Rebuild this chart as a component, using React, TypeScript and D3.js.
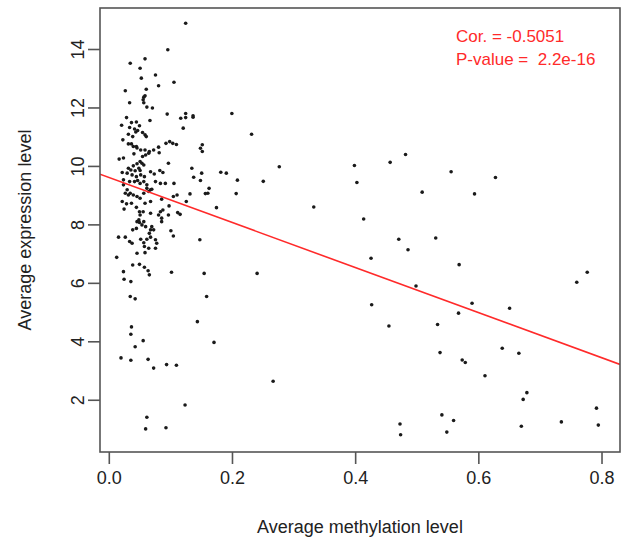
import React from 'react';
import * as d3 from 'd3';

// Average methylation level (x) and average expression level (y), one entry per gene
const methylation = [
  0.124, 0.095, 0.034, 0.058, 0.050, 0.075, 0.052, 0.105, 0.080, 0.026, 0.060, 0.056, 0.058, 0.055, 0.056, 0.033,
  0.061, 0.070, 0.028, 0.094, 0.066, 0.124, 0.124, 0.116, 0.136, 0.136, 0.036, 0.044, 0.020, 0.033, 0.049, 0.041,
  0.043, 0.046, 0.054, 0.058, 0.060, 0.031, 0.038, 0.022, 0.120, 0.092, 0.098, 0.103, 0.109, 0.036, 0.031, 0.039,
  0.044, 0.045, 0.051, 0.058, 0.065, 0.072, 0.080, 0.081, 0.064, 0.059, 0.054, 0.040, 0.148, 0.151, 0.151, 0.016,
  0.023,
  0.039, 0.045, 0.050, 0.053, 0.056, 0.031, 0.035, 0.042, 0.048, 0.050, 0.029, 0.021, 0.037, 0.044, 0.051, 0.057,
  0.067, 0.073, 0.082, 0.087, 0.096, 0.075, 0.083, 0.091, 0.105, 0.134, 0.137, 0.148, 0.150, 0.160, 0.023, 0.033,
  0.041, 0.046, 0.050, 0.056, 0.061, 0.067, 0.023, 0.029, 0.034, 0.039, 0.026, 0.031, 0.045, 0.050, 0.056, 0.061,
  0.064, 0.069, 0.085, 0.104, 0.110, 0.125, 0.131, 0.021, 0.028, 0.024, 0.036, 0.044, 0.049, 0.055, 0.058, 0.067,
  0.050, 0.067, 0.083, 0.087, 0.080, 0.097, 0.096, 0.111, 0.115, 0.045, 0.038, 0.048, 0.049, 0.053, 0.056, 0.044,
  0.059, 0.067, 0.069, 0.072, 0.065, 0.085, 0.085, 0.100, 0.104, 0.015, 0.026, 0.033, 0.037, 0.051, 0.056, 0.061,
  0.067, 0.075, 0.077, 0.057, 0.064, 0.075, 0.045, 0.058, 0.012, 0.038, 0.049, 0.057, 0.063, 0.065, 0.101, 0.023,
  0.024, 0.035, 0.034, 0.042, 0.147, 0.158, 0.154,
  0.143, 0.036, 0.035, 0.055, 0.042, 0.019, 0.035, 0.063, 0.072, 0.093, 0.109, 0.123, 0.061, 0.059, 0.092,
  0.199, 0.231, 0.276, 0.398, 0.456, 0.481, 0.402, 0.413, 0.332, 0.181, 0.190, 0.208, 0.250, 0.206, 0.162, 0.156,
  0.174,
  0.240, 0.170, 0.266, 0.470, 0.485, 0.425, 0.426, 0.454, 0.472, 0.473,
  0.555, 0.508, 0.593, 0.627,
  0.530, 0.568, 0.498, 0.589, 0.567, 0.650, 0.759, 0.776, 0.533, 0.537, 0.638, 0.665, 0.573, 0.578, 0.610, 0.678,
  0.672, 0.540, 0.559, 0.548, 0.669, 0.734, 0.791, 0.794,
];

const expression = [
  14.90, 13.99, 13.53, 13.68, 13.36, 13.13, 13.02, 12.88, 12.76, 12.59, 12.64, 12.37, 12.42, 12.28, 12.18, 12.18,
  12.03, 12.00, 11.67, 11.79, 11.57, 11.81, 11.67, 11.65, 11.73, 11.68, 11.50, 11.52, 11.41, 11.33, 11.39, 11.28,
  11.18, 11.23, 11.16, 11.08, 11.02, 11.10, 11.02, 10.91, 11.31, 10.79, 10.85, 10.79, 10.75, 10.77, 10.77, 10.68,
  10.68, 10.63, 10.56, 10.56, 10.51, 10.56, 10.66, 10.47, 10.45, 10.39, 10.34, 10.43, 10.62, 10.74, 10.51, 10.25,
  10.29,
  10.02, 10.09, 10.17, 10.11, 10.05, 9.94, 9.88, 9.85, 9.94, 9.86, 9.77, 9.79, 9.71, 9.65, 9.71, 9.65,
  9.82, 9.74, 9.86, 9.79, 10.11, 9.48, 9.42, 9.42, 9.42, 9.94, 9.63, 9.52, 9.77, 9.08, 9.54, 9.48,
  9.48, 9.52, 9.42, 9.48, 9.37, 9.20, 9.37, 9.20, 9.08, 9.02, 9.08, 9.02, 8.97, 8.91, 9.08, 9.25,
  9.14, 9.22, 8.88, 8.97, 9.02, 8.80, 9.06, 8.80, 8.72, 8.54, 8.74, 8.60, 8.45, 8.45, 8.74, 8.80,
  8.34, 8.40, 8.45, 8.51, 8.34, 8.65, 8.34, 8.42, 8.36, 8.11, 7.83, 8.17, 8.08, 8.00, 8.11, 7.88,
  7.94, 7.83, 7.94, 7.83, 7.71, 8.23, 8.11, 7.80, 7.62, 7.58, 7.58, 7.43, 7.37, 7.51, 7.39, 7.51,
  7.58, 7.49, 7.37, 7.26, 7.20, 7.20, 7.03, 7.05, 6.89, 6.63, 6.65, 6.55, 6.43, 6.29, 6.38, 6.40,
  6.14, 6.06, 5.55, 5.47, 7.49, 5.55, 6.34,
  4.69, 4.51, 4.26, 4.04, 3.83, 3.45, 3.37, 3.40, 3.10, 3.22, 3.20, 1.84, 1.42, 1.02, 1.06,
  11.81, 11.10, 9.99, 10.03, 10.14, 10.41, 9.45, 8.20, 8.61, 9.80, 9.77, 9.53, 9.49, 9.07, 9.25, 9.07,
  8.59,
  6.34, 3.98, 2.65, 7.51, 7.15, 6.86, 5.27, 4.54, 1.19, 0.82,
  9.82, 9.12, 9.06, 9.62,
  7.55, 6.64, 5.91, 5.32, 4.98, 5.15, 6.04, 6.38, 4.59, 3.63, 3.78, 3.61, 3.38, 3.29, 2.84, 2.26,
  2.03, 1.50, 1.31, 0.91, 1.11, 1.26, 1.73, 1.15,
];

// least-squares fit drawn in red
const fitIntercept = 9.62;
const fitSlope = -7.71;

const xTicks = [0, 0.2, 0.4, 0.6, 0.8];
const yTicks = [2, 4, 6, 8, 10, 12, 14];
const statLines = ['Cor. = -0.5051', 'P-value =  2.2e-16'];

const font = '"Liberation Sans", Arial, sans-serif';

export default function App() {
  const width = 625;
  const height = 540;
  const box = { left: 100, right: 620, top: 8, bottom: 452 };

  const x = d3.scaleLinear().domain([-0.0151, 0.8292]).range([box.left, box.right]);
  const y = d3.scaleLinear().domain([0.23, 15.42]).range([box.bottom, box.top]);

  const points = methylation.map((m, i) => ({ m, e: expression[i] }));
  const [x0, x1] = x.domain();
  const fitLine = d3.line<number>()
    .x(d => x(d))
    .y(d => y(fitIntercept + fitSlope * d))([x0, x1]);

  const axisColor = '#555';

  return (
    <svg width={width} height={height} style={{ position: 'absolute', left: 0, top: 0, background: '#fff' }}
      fontFamily={font}>
      <defs>
        <clipPath id="plotArea">
          <rect x={box.left} y={box.top} width={box.right - box.left} height={box.bottom - box.top} />
        </clipPath>
      </defs>

      {/* points */}
      <g fill="#1a1a1a">
        {points.map((p, i) => (
          <circle key={i} cx={x(p.m)} cy={y(p.e)} r={1.8} />
        ))}
      </g>

      {/* regression line */}
      <path d={fitLine || ''} stroke="#ff2a2a" strokeWidth={1.6} fill="none" clipPath="url(#plotArea)" />

      {/* frame */}
      <rect x={box.left} y={box.top} width={box.right - box.left} height={box.bottom - box.top}
        fill="none" stroke={axisColor} strokeWidth={1.6} />

      {/* x axis */}
      <g>
        {xTicks.map(t => (
          <g key={t}>
            <line x1={x(t)} x2={x(t)} y1={box.bottom} y2={box.bottom + 12} stroke={axisColor} strokeWidth={1.6} />
            <text x={x(t)} y={484} textAnchor="middle" fontSize={18} fill="#222">{d3.format('.1f')(t)}</text>
          </g>
        ))}
      </g>
      <text x={(box.left + box.right) / 2} y={533} textAnchor="middle" fontSize={18} fill="#222">
        Average methylation level
      </text>

      {/* y axis */}
      <g>
        {yTicks.map(t => (
          <g key={t}>
            <line x1={box.left - 12} x2={box.left} y1={y(t)} y2={y(t)} stroke={axisColor} strokeWidth={1.6} />
            <text transform={`translate(84, ${y(t)}) rotate(-90)`} textAnchor="middle" fontSize={18} fill="#222">
              {t}
            </text>
          </g>
        ))}
      </g>
      <text transform={`translate(31, ${(box.top + box.bottom) / 2}) rotate(-90)`} textAnchor="middle"
        fontSize={18} fill="#222">
        Average expression level
      </text>

      {/* correlation stats */}
      {statLines.map((s, i) => (
        <text key={s} x={456} y={42 + i * 23} fontSize={17} fill="#ff2a2a" style={{ whiteSpace: 'pre' }}>
          {s}
        </text>
      ))}
    </svg>
  );
}
